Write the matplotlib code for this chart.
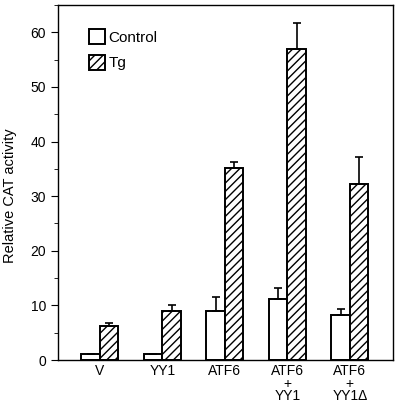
import numpy as np
import matplotlib.pyplot as plt
from matplotlib.ticker import MultipleLocator

groups = ['V', 'YY1', 'ATF6', 'ATF6\n+\nYY1', 'ATF6\n+\nYY1\u0394']
control = [1.1, 1.1, 9.0, 11.1, 8.2]
control_err = [0, 0, 2.5, 2.1, 1.2]
tg = [6.2, 9.0, 35.1, 57.0, 32.2]
tg_err = [0.6, 1.0, 1.1, 4.7, 5.0]

plt.rcParams['font.family'] = ['Liberation Sans', 'DejaVu Sans']
plt.rcParams['hatch.linewidth'] = 1.0

fig = plt.figure(figsize=(4.0, 4.07), dpi=100)
ax = fig.add_axes([58/400, 47/407, 335/400, 355/407])

x = np.arange(len(groups))
w = 0.296
ekw = dict(elinewidth=1.2, capthick=1.2)
ax.bar(x - w/2, control, w, color='white', edgecolor='black', linewidth=1.4,
       yerr=[np.zeros(5), control_err], capsize=3, error_kw=ekw, label='Control')
ax.bar(x + w/2, tg, w, color='white', edgecolor='black', linewidth=1.4,
       hatch='////', yerr=[np.zeros(5), tg_err], capsize=3, error_kw=ekw,
       label='Tg')

ax.set_xlim(-0.67, 4.69)
ax.set_ylim(0, 65)
ax.yaxis.set_major_locator(MultipleLocator(10))
ax.yaxis.set_minor_locator(MultipleLocator(5))
ax.tick_params(axis='y', direction='out', length=5, labelsize=10)
ax.tick_params(axis='y', which='minor', length=3)
ax.set_xticks(x)
ax.set_xticklabels(groups, fontsize=10, linespacing=0.85, va='top')
ax.tick_params(axis='x', length=0, pad=3)
ax.set_ylabel('Relative CAT activity', fontsize=10.5)
ax.yaxis.set_label_coords(-0.122, 0.462)
for s in ax.spines.values():
    s.set_linewidth(1.0)

ax.legend(loc='upper left', bbox_to_anchor=(0.05, 0.97), frameon=False,
          fontsize=11, handlelength=1.1, handleheight=1.1, handletextpad=0.2,
          labelspacing=0.65)

fig.savefig('out.png', dpi=100)
